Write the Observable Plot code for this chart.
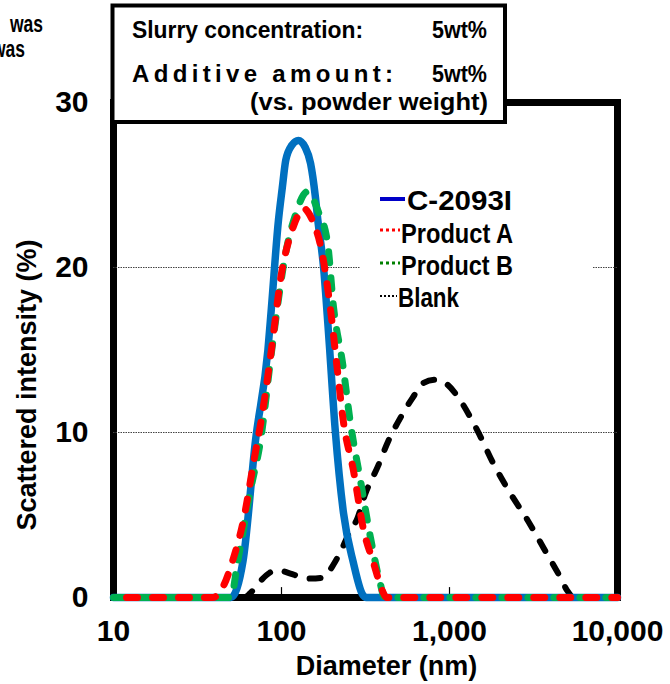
<!DOCTYPE html>
<html>
<head>
<meta charset="utf-8">
<script src="https://cdn.jsdelivr.net/npm/d3@7"></script>
<script src="https://cdn.jsdelivr.net/npm/@observablehq/plot@0.6"></script>
<style>
  html, body { margin: 0; padding: 0; background: #fff; }
  #chart { width: 670px; height: 684px; overflow: hidden; }
</style>
</head>
<body>
<div id="chart"></div>
<script>
// ---- Data ----
const xTicks = [10, 100, 1000, 10000];
const xInnerTicks = [100, 1000];
const yTicks = [0, 10, 20, 30];
const gridValues = [10, 20];

const blankDiameter = [10, 60, 65, 75, 85, 95, 113, 130, 149, 175, 204, 230, 250, 283, 316, 373, 433, 511, 603, 700, 826, 973, 1132, 1469, 1828, 2307, 2911, 3631, 4581, 5033, 5500, 10000];
const blankIntensity = [0, 0, 0.25, 1.0, 1.5, 1.65, 1.45, 1.25, 1.15, 1.2, 2.0, 3.0, 3.8, 4.8, 6.3, 7.9, 9.5, 10.9, 12.1, 13.0, 13.2, 12.9, 12.1, 10.1, 8.1, 6.3, 4.7, 3.0, 1.2, 0.4, 0, 0];

const c2093Diameter = [10, 50, 59, 70, 83, 87, 96, 101, 106, 115, 126, 138, 149, 159, 164, 178, 190, 209, 234, 268, 303, 320, 10000];
const c2093Intensity = [0, 0, 2.2, 9.5, 15.0, 17.5, 22.9, 24.8, 26.5, 27.4, 27.7, 27.3, 26.3, 24.3, 23.0, 20.0, 16.2, 10.1, 5.1, 2.1, 0.2, 0, 0];

const productBDiameter = [10, 50, 54.7, 65.4, 75, 88, 106, 124, 135, 143, 152, 164, 188, 204, 231, 257, 295, 339, 388, 410, 10000];
const productBIntensity = [0, 0, 2.1, 6.5, 9.5, 15.2, 20.9, 23.5, 24.4, 24.6, 24.3, 23.5, 21.5, 17.6, 14.2, 10.6, 7.1, 3.6, 0.8, 0, 0];

const productADiameter = [10, 39, 44.6, 51.8, 59.4, 68, 77, 86, 101, 116, 126, 135, 145, 155, 171, 196, 215, 234, 268, 308, 353, 399, 420, 10000];
const productAIntensity = [0, 0, 0.6, 2.4, 4.7, 8.1, 11.2, 14.6, 19.9, 22.3, 23.2, 23.6, 23.3, 22.7, 21.3, 17.4, 13.8, 10.6, 7.7, 4.1, 2.1, 0.4, 0, 0];

const seriesNames = ["C-2093I", "Product A", "Product B", "Blank"];
const xTitle = "Diameter (nm)";
const yTitle = "Scattered intensity (%)";
const noteLine1 = ["Slurry concentration:", "5wt%"];
const noteLine2 = ["Additive amount:", "5wt%"];
const noteLine3 = "(vs. powder weight)";
const cutText = ["was", "was"];

const rows = (ds, vs) => ds.map((d, i) => ({d, v: vs[i]}));
const blankRows = rows(blankDiameter, blankIntensity);
const c2093Rows = rows(c2093Diameter, c2093Intensity);
const productBRows = rows(productBDiameter, productBIntensity);
const productARows = rows(productADiameter, productAIntensity);

const FONT = "'Liberation Sans', Arial, sans-serif";

const plot = Plot.plot({
  width: 670,
  height: 684,
  marginLeft: 113,
  marginRight: 53,
  marginTop: 102,
  marginBottom: 87,
  style: {fontFamily: FONT, background: "#fff", overflow: "visible"},
  x: {type: "log", domain: [10, 10000], label: null},
  y: {domain: [0, 30], label: null},
  marks: [
    Plot.frame({stroke: "#000", strokeWidth: 7}),
    Plot.ruleY(gridValues, {stroke: "#444", strokeWidth: 1, strokeDasharray: "1.5,1"}),
    Plot.ruleX(xInnerTicks, {y1: 0, y2: 0.6, stroke: "#000", strokeWidth: 1.2}),
    Plot.axisX({ticks: xTicks, tickFormat: d3.format(","), tickSize: 0, tickPadding: 22, fontSize: 30, fontWeight: "bold", label: null}),
    Plot.axisY({ticks: yTicks, tickSize: 0, tickPadding: 25, fontSize: 30, fontWeight: "bold", label: null}),
    Plot.text([xTitle], {frameAnchor: "bottom", textAnchor: "middle", lineAnchor: "middle", dx: 21, dy: 69, fontSize: 27, fontWeight: "bold"}),
    Plot.text([yTitle], {frameAnchor: "left", textAnchor: "middle", lineAnchor: "middle", rotate: -90, dx: -86, dy: 35, fontSize: 27, fontWeight: "bold"}),
    Plot.line(blankRows, {x: "d", y: "v", stroke: "#000", strokeWidth: 6, strokeDasharray: "11,15", strokeLinecap: "round", curve: "monotone-x"}),
    Plot.line(c2093Rows, {x: "d", y: "v", stroke: "#0070C0", strokeWidth: 7.5, strokeLinejoin: "round", curve: "monotone-x"}),
    Plot.line(productBRows, {x: "d", y: "v", stroke: "#00B050", strokeWidth: 7, strokeDasharray: "11,15", strokeLinecap: "round", curve: "monotone-x"}),
    Plot.line(productARows, {x: "d", y: "v", stroke: "#FF0000", strokeWidth: 7, strokeDasharray: "11,15", strokeDashoffset: 13, strokeLinecap: "round", curve: "monotone-x"})
  ]
});

document.getElementById("chart").appendChild(plot);
const svg = d3.select(plot);

// ---- Legend (white box hiding the grid line) ----
const legendItems = [
  {label: seriesNames[0], color: "#0000C8", dash: null, w: 4, x1: 380, x2: 405, ly: 199, tx: 407, ty: 210, tl: 105},
  {label: seriesNames[1], color: "#FF0000", dash: "3,3", w: 3, x1: 380, x2: 400, ly: 230, tx: 401, ty: 243, tl: 112},
  {label: seriesNames[2], color: "#008000", dash: "3,3", w: 3, x1: 380, x2: 400, ly: 263, tx: 401, ty: 275, tl: 112},
  {label: seriesNames[3], color: "#000000", dash: "2,2", w: 2, x1: 380, x2: 397, ly: 296, tx: 398, ty: 307, tl: 61}
];
const lg = svg.append("g").attr("font-family", FONT).attr("font-weight", "bold").attr("text-anchor", "start");
lg.append("rect").attr("x", 360).attr("y", 178).attr("width", 232).attr("height", 140).attr("fill", "#fff");
legendItems.forEach(it => {
  lg.append("line").attr("x1", it.x1).attr("x2", it.x2).attr("y1", it.ly).attr("y2", it.ly)
    .attr("stroke", it.color).attr("stroke-width", it.w).attr("stroke-dasharray", it.dash);
  lg.append("text").attr("x", it.tx).attr("y", it.ty).attr("font-size", 27).attr("text-anchor", "start")
    .attr("textLength", it.tl).attr("lengthAdjust", "spacingAndGlyphs").text(it.label);
});

// ---- Condition box (top-left) ----
const nb = svg.append("g").attr("font-family", FONT).attr("font-weight", "bold").attr("text-anchor", "start");
nb.append("rect").attr("x", 112.5).attr("y", 5.5).attr("width", 392.5).attr("height", 116.5)
  .attr("fill", "#fff").attr("stroke", "#000").attr("stroke-width", 4);
const noteTexts = [
  {t: noteLine1[0], x: 132, y: 38, fs: 24, tl: 231, adj: "spacingAndGlyphs"},
  {t: noteLine1[1], x: 432, y: 38, fs: 24, tl: 55, adj: "spacingAndGlyphs"},
  {t: noteLine2[0], x: 132, y: 82, fs: 24, tl: 261, adj: "spacing"},
  {t: noteLine2[1], x: 432, y: 82, fs: 24, tl: 55, adj: "spacingAndGlyphs"},
  {t: noteLine3, x: 250, y: 110, fs: 23, tl: 238, adj: "spacingAndGlyphs"}
];
noteTexts.forEach(n => {
  nb.append("text").attr("x", n.x).attr("y", n.y).attr("font-size", n.fs).attr("text-anchor", "start")
    .attr("textLength", n.tl).attr("lengthAdjust", n.adj).text(n.t);
});

// ---- Cut-off text remnants at top-left ----
const ct = svg.append("g").attr("font-family", FONT).attr("font-weight", "bold").attr("text-anchor", "start");
ct.append("text").attr("x", 10).attr("y", 32).attr("font-size", 24).attr("text-anchor", "start").attr("textLength", 33).attr("lengthAdjust", "spacingAndGlyphs").text(cutText[0]);
ct.append("text").attr("x", -8).attr("y", 57).attr("font-size", 24).attr("text-anchor", "start").attr("textLength", 33).attr("lengthAdjust", "spacingAndGlyphs").text(cutText[1]);
</script>
</body>
</html>
